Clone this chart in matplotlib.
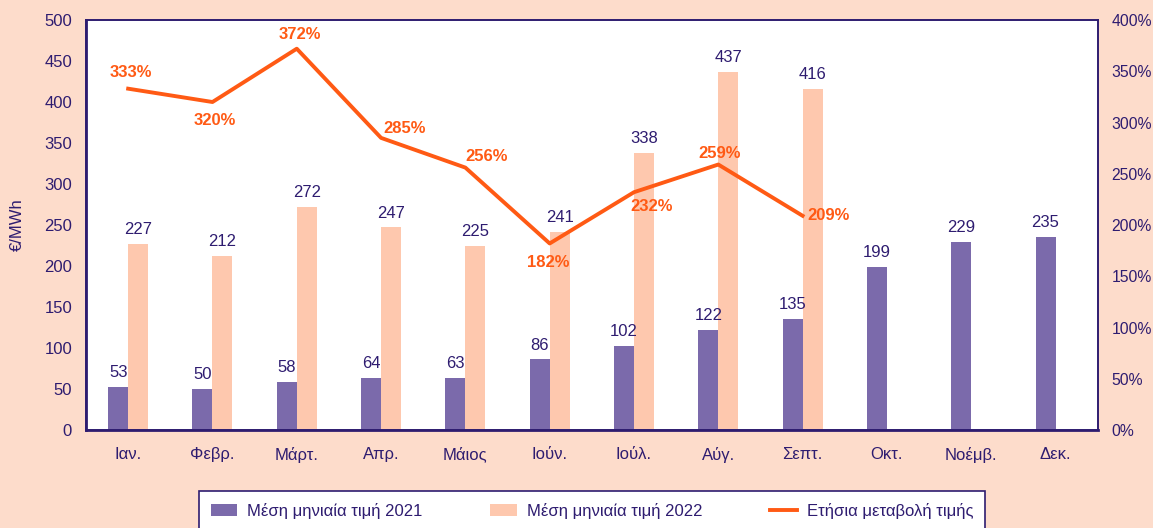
import numpy as np
import matplotlib.pyplot as plt

plt.rcParams['font.family'] = ['Liberation Sans', 'DejaVu Sans']

# data
months = ["Ιαν.", "Φεβρ.", "Μάρτ.", "Απρ.", "Μάιος", "Ιούν.", "Ιούλ.", "Αύγ.",
          "Σεπτ.", "Οκτ.", "Νοέμβ.", "Δεκ."]
price_2021 = [53, 50, 58, 64, 63, 86, 102, 122, 135, 199, 229, 235]
price_2022 = [227, 212, 272, 247, 225, 241, 338, 437, 416]
yoy_change = [333, 320, 372, 285, 256, 182, 232, 259, 209]

# label offsets for the line labels (points)
line_offsets = [(2, 12), (2, -13), (2, 10), (17, 7), (15, 8), (-1, -14), (13, -10), (1, 8), (19, 0)]

bg = "#FDDCCB"
purple = "#7B6AAB"
peach = "#FEC8AE"
orange = "#FF5A14"
dark = "#2E1C70"
fs = 12

fig = plt.figure(figsize=(11.53, 5.28), dpi=100, facecolor=bg)
ax = fig.add_axes([0.0746, 0.1856, 0.8774, 0.7765])
ax2 = ax.twinx()

x = np.arange(len(months))
w = 0.237
b1 = ax.bar(x - w / 2, price_2021, w, color=purple, label="Μέση μηνιαία τιμή 2021")
x22 = np.arange(len(price_2022))
b2 = ax.bar(x22 + w / 2, price_2022, w, color=peach, label="Μέση μηνιαία τιμή 2022")
ax.bar_label(b1, padding=5, color=dark, fontsize=fs)
ax.bar_label(b2, padding=5, color=dark, fontsize=fs)

xl = np.arange(len(yoy_change))
ln, = ax2.plot(xl, yoy_change, color=orange, lw=2.8, label="Ετήσια μεταβολή τιμής")
for xi, v, off in zip(xl, yoy_change, line_offsets):
    ax2.annotate(f"{v}%", (xi, v), xytext=off, textcoords="offset points",
                 ha="center", va="center", color=orange, fontweight="bold", fontsize=fs)

ax.set_xlim(-0.5, 11.5)
ax.set_ylim(0, 500)
ax.set_yticks(range(0, 501, 50))
ax2.set_ylim(0, 400)
ax2.set_yticks(range(0, 401, 50))
ax2.set_yticklabels([f"{t}%" for t in range(0, 401, 50)])
ax.set_xticks(x)
ax.set_xticklabels(months)

for a in (ax, ax2):
    a.tick_params(length=0, colors=dark, labelsize=fs)
    for s in a.spines.values():
        s.set_color(dark)
        s.set_linewidth(1.2)
ax.spines["left"].set_linewidth(2)
ax.spines["bottom"].set_linewidth(2)
ax.tick_params(axis="x", pad=12)
ax.tick_params(axis="y", pad=10)
ax2.tick_params(axis="y", pad=10, labelsize=11.3)
ax.set_ylabel("€/MWh", color=dark, fontsize=fs, labelpad=14)

leg = fig.legend(handles=[b1, b2, ln], loc="upper left", ncol=3, mode="expand",
                 bbox_to_anchor=(199 / 1153, 0, 786 / 1153, 1 - 491 / 528),
                 borderaxespad=0, frameon=True, fancybox=False, fontsize=fs,
                 handlelength=1.6, handletextpad=0.6, handleheight=0.8,
                 borderpad=0.7, framealpha=1)
leg.get_frame().set_edgecolor(dark)
leg.get_frame().set_facecolor("white")
leg.get_frame().set_linewidth(1.2)
for t in leg.get_texts():
    t.set_color(dark)

fig.savefig("out.png", dpi=100, facecolor=bg)
